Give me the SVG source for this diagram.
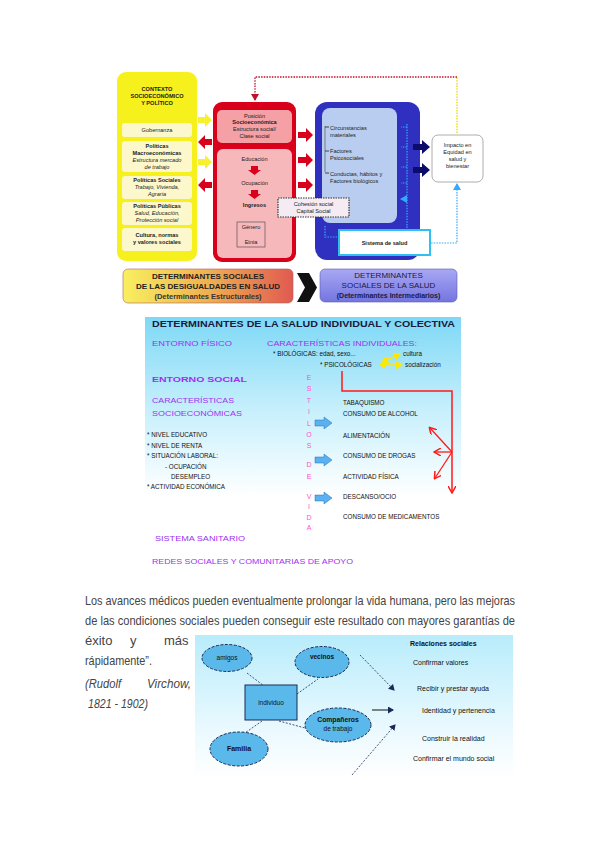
<svg xmlns="http://www.w3.org/2000/svg" width="599" height="848" viewBox="0 0 599 848">
<defs>
<linearGradient id="gBar1" x1="0" y1="0" x2="1" y2="0"><stop offset="0" stop-color="#f8f060"/><stop offset="0.5" stop-color="#f0b050"/><stop offset="1" stop-color="#e05a50"/></linearGradient>
<linearGradient id="gBar2" x1="0" y1="0" x2="0" y2="1"><stop offset="0" stop-color="#a8a8f4"/><stop offset="1" stop-color="#7474e0"/></linearGradient>
<linearGradient id="gMid" x1="0" y1="0" x2="0" y2="1"><stop offset="0" stop-color="#7ed8f6"/><stop offset="0.45" stop-color="#c8f0fc"/><stop offset="0.85" stop-color="#ffffff"/></linearGradient>
<linearGradient id="gBot" x1="0" y1="0" x2="0" y2="1"><stop offset="0" stop-color="#b8ecfb"/><stop offset="0.6" stop-color="#e6f8fe"/><stop offset="1" stop-color="#ffffff"/></linearGradient>
<marker id="mRed" markerWidth="8" markerHeight="8" refX="6" refY="4" orient="auto" markerUnits="userSpaceOnUse"><path d="M0,0 L7,4 L0,8" fill="none" stroke="#ff1a1a" stroke-width="1.5"/></marker>
<marker id="mRedDot" markerWidth="8" markerHeight="8" refX="6" refY="4" orient="auto" markerUnits="userSpaceOnUse"><path d="M0,0 L7,4 L0,8 z" fill="#c0102a"/></marker>
<marker id="mBlueDot" markerWidth="8" markerHeight="8" refX="6" refY="4" orient="auto" markerUnits="userSpaceOnUse"><path d="M0,0 L7,4 L0,8 z" fill="#33aaff"/></marker>
<marker id="mYel" markerWidth="8" markerHeight="8" refX="6" refY="4" orient="auto-start-reverse" markerUnits="userSpaceOnUse"><path d="M0,0 L7,4 L0,8 z" fill="#ffe800"/></marker>
<marker id="mBlk" markerWidth="7" markerHeight="7" refX="5" refY="3.5" orient="auto" markerUnits="userSpaceOnUse"><path d="M0,0 L6,3.5 L0,7 z" fill="#1a2a55"/></marker>
</defs>
<style>
.t{font-family:"Liberation Sans",Arial,sans-serif;}
.tb{font-family:"Liberation Sans",Arial,sans-serif;font-weight:bold;}
.s6{font-size:5.6px;fill:#222;}
.pur{font-family:"Liberation Sans",Arial,sans-serif;fill:#a030f0;font-size:8px;}
.blk{font-family:"Liberation Sans",Arial,sans-serif;fill:#111;font-size:6.3px;}
.pk{font-family:"Liberation Sans",Arial,sans-serif;fill:#ff50d0;font-size:7px;text-anchor:middle;}
.hand{font-family:"Liberation Sans",Arial,sans-serif;fill:#444;font-size:13px;}
.ell{fill:#5ab8ea;stroke:#1a2a55;stroke-width:1;stroke-dasharray:3 1.5;}
.dl{stroke:#1a2a55;stroke-width:0.8;stroke-dasharray:2 1.5;fill:none;}
.rel{font-family:"Liberation Sans",Arial,sans-serif;fill:#111;font-size:7px;}
</style>

<!-- ============ TOP DIAGRAM ============ -->
<g id="contexto">
<rect x="117" y="72" width="80" height="189" rx="9" fill="#f6f01c"/>
<text class="tb s6" x="157" y="91" text-anchor="middle" fill="#333">CONTEXTO</text>
<text class="tb s6" x="157" y="98" text-anchor="middle">SOCIOECONÓMICO</text>
<text class="tb s6" x="157" y="105" text-anchor="middle">Y POLÍTICO</text>
<rect x="122" y="123" width="70" height="14" rx="3" fill="#fdf8cc"/>
<text class="t s6" x="157" y="132" text-anchor="middle">Gobernanza</text>
<rect x="122" y="141" width="70" height="31" rx="3" fill="#fdf8cc"/>
<text class="tb s6" x="157" y="148" text-anchor="middle">Políticas</text>
<text class="tb s6" x="157" y="155" text-anchor="middle">Macroeconómicas</text>
<text class="t s6" x="157" y="162" text-anchor="middle" font-style="italic">Estructura mercado</text>
<text class="t s6" x="157" y="169" text-anchor="middle" font-style="italic">de trabajo</text>
<rect x="122" y="176" width="70" height="23" rx="3" fill="#fdf8cc"/>
<text class="tb s6" x="157" y="182" text-anchor="middle">Políticas Sociales</text>
<text class="t s6" x="157" y="189" text-anchor="middle" font-style="italic">Trabajo, Vivienda,</text>
<text class="t s6" x="157" y="196" text-anchor="middle" font-style="italic">Agraria</text>
<rect x="122" y="202" width="70" height="23" rx="3" fill="#fdf8cc"/>
<text class="tb s6" x="157" y="208" text-anchor="middle">Políticas Públicas</text>
<text class="t s6" x="157" y="215" text-anchor="middle" font-style="italic">Salud, Educación,</text>
<text class="t s6" x="157" y="222" text-anchor="middle" font-style="italic">Protección social</text>
<rect x="122" y="228" width="70" height="23" rx="3" fill="#fdf8cc"/>
<text class="tb s6" x="157" y="237" text-anchor="middle">Cultura, normas</text>
<text class="tb s6" x="157" y="244" text-anchor="middle">y valores sociales</text>
</g>

<g id="posicion">
<rect x="213" y="102" width="83" height="160" rx="9" fill="#d8001a"/>
<rect x="217" y="110" width="75" height="33" rx="5" fill="#f4a0a4"/>
<text class="t s6" x="254.5" y="118" text-anchor="middle">Posición</text>
<text class="tb s6" x="254.5" y="124" text-anchor="middle">Socioeconómica</text>
<text class="t s6" x="254.5" y="131" text-anchor="middle">Estructura social/</text>
<text class="t s6" x="254.5" y="138" text-anchor="middle">Clase social</text>
<rect x="217" y="149" width="75" height="109" rx="6" fill="#f7b8bc"/>
<text class="t s6" x="254.5" y="161" text-anchor="middle">Educación</text>
<path d="M251,166 h7 v4 h3 l-6.5,5 l-6.5,-5 h3 z" fill="#d8001a"/>
<text class="t s6" x="254.5" y="185" text-anchor="middle" font-size="6.5">Ocupación</text>
<path d="M251,190 h7 v4 h3 l-6.5,5 l-6.5,-5 h3 z" fill="#d8001a"/>
<text class="tb s6" x="254.5" y="207" text-anchor="middle">Ingresos</text>
<rect x="237" y="222" width="28" height="25" fill="#f7b8bc" stroke="#444" stroke-width="0.6"/>
<text class="t s6" x="251" y="229" text-anchor="middle" font-size="5">Género</text>
<text class="t s6" x="251" y="244" text-anchor="middle" font-size="5">Etnia</text>
</g>

<g id="intermedios">
<rect x="315" y="102" width="105" height="158" rx="12" fill="#3030c0"/>
<rect x="322" y="108" width="75" height="115" rx="8" fill="#b9cdf0"/>
<path d="M325,126 v46" stroke="#444" stroke-width="0.6" fill="none"/>
<path d="M325,127 h4 M325,151 h4 M325,173 h4" stroke="#222" stroke-width="0.8"/>
<text class="t s6" x="330" y="130">Circunstancias</text>
<text class="t s6" x="330" y="137">materiales</text>
<text class="t s6" x="330" y="153">Factores</text>
<text class="t s6" x="330" y="160">Psicosociales</text>
<text class="t s6" x="330" y="176">Conductas, hábitos y</text>
<text class="t s6" x="330" y="183">Factores  biológicos</text>
</g>

<g id="cohesion">
<rect x="278" y="198" width="71" height="19" fill="#f4ecf2" stroke="#333" stroke-width="1.2" stroke-dasharray="1.5 1"/>
<text class="t s6" x="313.5" y="206" text-anchor="middle">Cohesión social</text>
<text class="t s6" x="313.5" y="213" text-anchor="middle">Capital Social</text>
</g>

<g id="sistema-salud">
<rect x="339" y="230" width="91" height="25" fill="#ffffff" stroke="#30c0f0" stroke-width="2"/>
<text class="tb s6" x="384.5" y="245" text-anchor="middle" font-size="6">Sistema de salud</text>
</g>

<g id="impacto">
<rect x="432" y="135" width="51" height="47" rx="6" fill="#ffffff" stroke="#999" stroke-width="0.8"/>
<text class="t s6" x="457.5" y="147" text-anchor="middle">Impacto en</text>
<text class="t s6" x="457.5" y="154" text-anchor="middle">Equidad en</text>
<text class="t s6" x="457.5" y="161" text-anchor="middle">salud y</text>
<text class="t s6" x="457.5" y="168" text-anchor="middle">bienestar</text>
</g>

<g id="connectors-top">
<path d="M198,117 h7 v-4 l7,7 l-7,7 v-4 h-7 z" fill="#f6f030"/>
<path d="M198,159 h7 v-4 l7,7 l-7,7 v-4 h-7 z" fill="#f6f030"/>
<path d="M212,139 h-7 v-4 l-7,7 l7,7 v-4 h7 z" fill="#d8001a"/>
<path d="M212,182 h-7 v-4 l-7,7 l7,7 v-4 h7 z" fill="#d8001a"/>
<path d="M298,132 h8 v-4 l7,7 l-7,7 v-4 h-8 z" fill="#d8001a"/>
<path d="M298,157 h8 v-4 l7,7 l-7,7 v-4 h-8 z" fill="#d8001a"/>
<path d="M298,182 h8 v-4 l7,7 l-7,7 v-4 h-8 z" fill="#d8001a"/>
<path d="M413,144 h9 v-4 l8,7 l-8,7 v-4 h-9 z" fill="#0c0c6a"/>
<path d="M413,167 h9 v-4 l8,7 l-8,7 v-4 h-9 z" fill="#0c0c6a"/>
<path d="M457,133 V77" stroke="#e8d800" stroke-width="1.3" stroke-dasharray="1.5 1.2" fill="none"/>
<path d="M457,77 H255 V100" stroke="#c0102a" stroke-width="1.3" stroke-dasharray="1.5 1.2" fill="none" marker-end="url(#mRedDot)"/>
<path d="M407,124 V230" stroke="#33aaff" stroke-width="1.2" stroke-dasharray="1.5 1.2" fill="none"/>
<path d="M407,127 h-6 M407,147 h-6 M407,167 h-6 M407,183 h-6 M407,199 h-6" stroke="#33aaff" stroke-width="1.2" stroke-dasharray="1.5 1.2" marker-end="url(#mBlueDot)"/>
<path d="M325,226 V237 H338" stroke="#33aaff" stroke-width="1.2" stroke-dasharray="1.5 1.2" fill="none"/>
<path d="M431,243 H457 V184" stroke="#33aaff" stroke-width="1.2" stroke-dasharray="1.5 1.2" fill="none" marker-end="url(#mBlueDot)"/>
</g>

<g id="bar-estructurales">
<rect x="123" y="269" width="170" height="34" rx="5" fill="url(#gBar1)" stroke="#b06060" stroke-width="0.6"/>
<text class="tb" x="208" y="279" text-anchor="middle" font-size="8" fill="#222">DETERMINANTES SOCIALES</text>
<text class="tb" x="208" y="289" text-anchor="middle" font-size="8" fill="#222">DE LAS DESIGUALDADES EN SALUD</text>
<text class="tb" x="208" y="299" text-anchor="middle" font-size="7.5" fill="#333">(Determinantes Estructurales)</text>
</g>
<g id="chevron"><path d="M297,273 H309 L317,287.5 L309,302 H297 L305,287.5 z" fill="#111"/></g>
<g id="bar-intermedios">
<rect x="320" y="269" width="137" height="33" rx="5" fill="url(#gBar2)" stroke="#5a5ab0" stroke-width="0.6"/>
<text class="t" x="388.5" y="278" text-anchor="middle" font-size="8" fill="#1a1a40">DETERMINANTES</text>
<text class="t" x="388.5" y="288" text-anchor="middle" font-size="8" fill="#1a1a40">SOCIALES DE  LA SALUD</text>
<text class="tb" x="388.5" y="298" text-anchor="middle" font-size="7" fill="#1a1a40">(Determinantes Intermediarios)</text>
</g>

<!-- ============ MIDDLE DIAGRAM ============ -->
<rect x="145" y="317" width="316" height="210" fill="url(#gMid)"/>
<text class="tb" x="152" y="327" font-size="9.5" fill="#1a1a3a" textLength="303" lengthAdjust="spacingAndGlyphs">DETERMINANTES DE LA SALUD INDIVIDUAL Y COLECTIVA</text>

<g id="entorno-fisico"><text class="pur" x="152" y="346" textLength="80" lengthAdjust="spacingAndGlyphs">ENTORNO FÍSICO</text></g>
<g id="caracteristicas-individuales">
<text class="pur" x="267" y="346" textLength="150" lengthAdjust="spacingAndGlyphs">CARACTERÍSTICAS INDIVIDUALES:</text>
<text class="blk" x="273" y="356" font-size="6">* BIOLÓGICAS: edad, sexo...</text>
<text class="blk" x="320" y="367" font-size="6">* PSICOLÓGICAS</text>
<text class="blk" x="403" y="356" font-size="6">cultura</text>
<text class="blk" x="405" y="367" font-size="6">socialización</text>
<path d="M380,365 H402" stroke="#ffe800" stroke-width="1.5" marker-start="url(#mYel)" marker-end="url(#mYel)"/>
<path d="M382,362 L400,354" stroke="#ffe800" stroke-width="1.5" marker-start="url(#mYel)" marker-end="url(#mYel)"/>
</g>
<g id="entorno-social"><text class="pur" x="152" y="382" font-size="11" font-weight="bold" textLength="95" lengthAdjust="spacingAndGlyphs">ENTORNO SOCIAL</text></g>
<g id="socioeconomicas">
<text class="pur" x="152" y="403" fill="#b050e8" textLength="82" lengthAdjust="spacingAndGlyphs">CARACTERÍSTICAS</text>
<text class="pur" x="152" y="416" fill="#b050e8" textLength="90" lengthAdjust="spacingAndGlyphs">SOCIOECONÓMICAS</text>
<text class="blk" x="147" y="437">* NIVEL EDUCATIVO</text>
<text class="blk" x="147" y="448">* NIVEL DE RENTA</text>
<text class="blk" x="147" y="458">* SITUACIÓN LABORAL:</text>
<text class="blk" x="165" y="469">- OCUPACIÓN</text>
<text class="blk" x="171" y="479">DESEMPLEO</text>
<text class="blk" x="147" y="489">* ACTIVIDAD ECONÓMICA</text>
</g>
<g id="estilos-vida">
<text class="pk" x="309" y="380">E</text><text class="pk" x="309" y="391">S</text>
<text class="pk" x="309" y="403">T</text><text class="pk" x="309" y="414">I</text>
<text class="pk" x="309" y="426">L</text><text class="pk" x="309" y="437">O</text>
<text class="pk" x="309" y="448">S</text><text class="pk" x="309" y="467">D</text>
<text class="pk" x="309" y="479">E</text><text class="pk" x="309" y="499">V</text>
<text class="pk" x="309" y="509">I</text><text class="pk" x="309" y="520">D</text>
<text class="pk" x="309" y="530">A</text>
<path d="M315,420 h9 v-3 l8,6 l-8,6 v-3 h-9 z" fill="#5ab0f0" stroke="#2a70b0" stroke-width="0.5"/>
<path d="M315,457 h9 v-3 l8,6 l-8,6 v-3 h-9 z" fill="#5ab0f0" stroke="#2a70b0" stroke-width="0.5"/>
<path d="M315,495 h9 v-3 l8,6 l-8,6 v-3 h-9 z" fill="#5ab0f0" stroke="#2a70b0" stroke-width="0.5"/>
</g>
<g id="habitos">
<text class="blk" x="343" y="405">TABAQUISMO</text>
<text class="blk" x="343" y="416">CONSUMO DE ALCOHOL</text>
<text class="blk" x="343" y="438">ALIMENTACIÓN</text>
<text class="blk" x="343" y="458">CONSUMO DE DROGAS</text>
<text class="blk" x="343" y="479">ACTIVIDAD FÍSICA</text>
<text class="blk" x="343" y="499">DESCANSO/OCIO</text>
<text class="blk" x="343" y="519">CONSUMO DE MEDICAMENTOS</text>
</g>
<g id="sistema-sanitario"><text class="pur" x="155" y="541" textLength="90" lengthAdjust="spacingAndGlyphs">SISTEMA SANITARIO</text></g>
<g id="redes-sociales"><text class="pur" x="152" y="564" textLength="201" lengthAdjust="spacingAndGlyphs">REDES SOCIALES Y COMUNITARIAS DE APOYO</text></g>

<g id="connectors-mid">
<path d="M342,371 V391 H452 V492" stroke="#ff1a1a" stroke-width="1.5" fill="none" marker-end="url(#mRed)"/>
<path d="M452,452 L430,428" stroke="#ff1a1a" stroke-width="1.3" marker-end="url(#mRed)"/>
<path d="M452,452 L435,452" stroke="#ff1a1a" stroke-width="1.3" marker-end="url(#mRed)"/>
<path d="M452,452 L435,478" stroke="#ff1a1a" stroke-width="1.3" marker-end="url(#mRed)"/>
</g>

<!-- ============ QUOTE ============ -->
<g id="quote">
<text class="hand" x="85" y="605" textLength="430" lengthAdjust="spacingAndGlyphs">Los avances médicos pueden eventualmente prolongar la vida humana, pero las mejoras</text>
<text class="hand" x="85" y="625" textLength="430" lengthAdjust="spacingAndGlyphs">de las condiciones sociales pueden conseguir este resultado con mayores garantías de</text>
<text class="hand" x="85" y="645">éxito</text>
<text class="hand" x="130" y="645">y</text>
<text class="hand" x="164" y="645">más</text>
<text class="hand" x="85" y="665" textLength="67" lengthAdjust="spacingAndGlyphs">rápidamente”.</text>
<text class="hand" x="85" y="688" font-style="italic" textLength="36" lengthAdjust="spacingAndGlyphs">(Rudolf</text>
<text class="hand" x="147" y="688" font-style="italic" textLength="44" lengthAdjust="spacingAndGlyphs">Virchow,</text>
<text class="hand" x="88" y="708" font-style="italic" textLength="60" lengthAdjust="spacingAndGlyphs">1821 - 1902)</text>
</g>

<!-- ============ BOTTOM DIAGRAM ============ -->
<rect x="195" y="635" width="318" height="143" fill="url(#gBot)"/>
<g id="connectors-bottom">
<path class="dl" d="M247,673 L264,686"/>
<path class="dl" d="M297,694 L318,679"/>
<path class="dl" d="M279,721 L305,728"/>
<path class="dl" d="M262,721 L245,733"/>
<path class="dl" d="M360,655 L394,690" marker-end="url(#mBlk)"/>
<path d="M372,710 L393,710" stroke="#111" stroke-width="1" marker-end="url(#mBlk)"/>
<path class="dl" d="M352,775 L395,725" marker-end="url(#mBlk)"/>
</g>
<g id="amigos"><ellipse class="ell" cx="227" cy="658" rx="25" ry="13.5"/><text class="t" x="227" y="660" font-size="6.5" text-anchor="middle" fill="#111">amigos</text></g>
<g id="vecinos"><ellipse class="ell" cx="322" cy="662" rx="27" ry="15.5"/><text class="tb" x="322" y="659" font-size="6.5" text-anchor="middle" fill="#111">vecinos</text></g>
<g id="individuo"><rect x="245" y="685" width="52" height="35" fill="#5ab8ea" stroke="#1a2a55" stroke-width="1"/><text class="t" x="271" y="705" font-size="6.5" text-anchor="middle" fill="#111">individuo</text></g>
<g id="companeros"><ellipse class="ell" cx="338" cy="725" rx="33" ry="17"/><text class="tb" x="338" y="722" font-size="6.8" text-anchor="middle" fill="#111">Compañeros</text><text class="t" x="338" y="731" font-size="6.5" text-anchor="middle" fill="#111">de trabajo</text></g>
<g id="familia"><ellipse class="ell" cx="239" cy="749" rx="29" ry="17"/><text class="tb" x="239" y="751" font-size="7" text-anchor="middle" fill="#111">Familia</text></g>
<g id="relaciones">
<text class="tb" x="410" y="646" font-size="7" fill="#111">Relaciones sociales</text>
<text class="rel" x="413" y="665">Confirmar valores</text>
<text class="rel" x="417" y="691">Recibir y prestar ayuda</text>
<text class="rel" x="422" y="713">Identidad y pertenencia</text>
<text class="rel" x="422" y="741">Construir la realidad</text>
<text class="rel" x="413" y="761">Confirmar el mundo social</text>
</g>
</svg>
